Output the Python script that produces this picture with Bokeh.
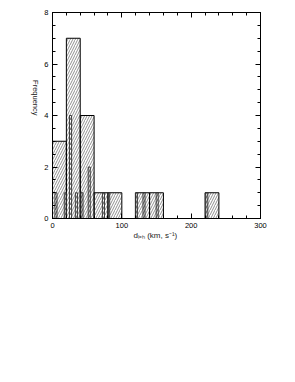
import math
from bokeh.plotting import figure
from bokeh.models import LinearAxis, FixedTicker, Range1d
from bokeh.embed import file_html
from bokeh.resources import INLINE

# Histogram (bin width 20)
bin_left = [0, 20, 40, 60, 80, 120, 140, 220]
bin_right = [20, 40, 60, 80, 100, 140, 160, 240]
bin_count = [3, 7, 4, 1, 1, 1, 1, 1]

# Fine histogram of individual values
fine_center = [5, 18.5, 26, 34.5, 42.5, 53, 73.5, 81, 121, 132, 151, 222.5]
fine_count = [1, 1, 4, 1, 1, 2, 1, 1, 1, 1, 1, 1]
fine_width = 3

x_major = [0, 100, 200, 300]
x_minor = list(range(0, 301, 20))
y_major = [0, 2, 4, 6, 8]
y_minor = [i * 0.5 for i in range(17)]

FONT = "Liberation Sans"

p = figure(frame_width=208, frame_height=206, output_backend="svg",
           toolbar_location=None, x_range=Range1d(0, 300), y_range=Range1d(0, 8),
           min_border_left=52, min_border_top=12, min_border_right=20,
           min_border_bottom=30, x_axis_location=None, y_axis_location=None)
p.xgrid.visible = False
p.ygrid.visible = False
p.outline_line_color = "black"
p.background_fill_color = "white"
p.border_fill_color = "white"

p.quad(left=bin_left, right=bin_right, top=bin_count, bottom=0,
       fill_color="white", fill_alpha=0, line_color="black", line_width=1,
       hatch_pattern="/", hatch_scale=5, hatch_color="#444444", hatch_weight=0.6)

fl = [c - fine_width / 2 for c in fine_center]
fr = [c + fine_width / 2 for c in fine_center]
p.quad(left=fl, right=fr, top=fine_count, bottom=0,
       fill_alpha=0, line_color="#333333", line_width=0.9,
       hatch_pattern="/", hatch_scale=5, hatch_color="#444444", hatch_weight=0.6)


def style(ax, ticks, minor, labels=True):
    ax.ticker = FixedTicker(ticks=ticks, minor_ticks=minor)
    ax.axis_line_color = "black"
    ax.major_tick_in = 5
    ax.major_tick_out = 0
    ax.minor_tick_in = 3
    ax.minor_tick_out = 0
    ax.major_tick_line_color = "black"
    ax.minor_tick_line_color = "black"
    ax.major_label_text_font = FONT
    ax.major_label_text_font_size = "7.5px"
    ax.major_label_text_color = "black"
    ax.major_label_standoff = 4
    if not labels:
        ax.major_label_text_alpha = 0
        ax.major_label_text_font_size = "0px"


xb = LinearAxis(axis_label="dₗ₌ₕ  (km, s⁻¹)")
style(xb, x_major, x_minor)
xb.axis_label_text_font = FONT
xb.axis_label_text_font_size = "8px"
xb.axis_label_text_font_style = "normal"
xb.axis_label_text_color = "#222222"
xb.axis_label_standoff = 0
p.add_layout(xb, "below")

xt = LinearAxis()
style(xt, x_major, x_minor, labels=False)
p.add_layout(xt, "above")

yl = LinearAxis(axis_label="Frequency")
style(yl, y_major, y_minor)
yl.axis_label_text_font = FONT
yl.axis_label_text_font_size = "7.5px"
yl.axis_label_text_font_style = "normal"
yl.axis_label_text_color = "#222222"
yl.axis_label_standoff = 6
try:
    yl.axis_label_orientation = -math.pi / 2
except Exception:
    pass
try:
    yl.axis_label_text_align = "center"
except Exception:
    pass
p.add_layout(yl, "left")

yr = LinearAxis()
style(yr, y_major, y_minor, labels=False)
p.add_layout(yr, "right")

open("out.html", "w").write(file_html(p, INLINE))
